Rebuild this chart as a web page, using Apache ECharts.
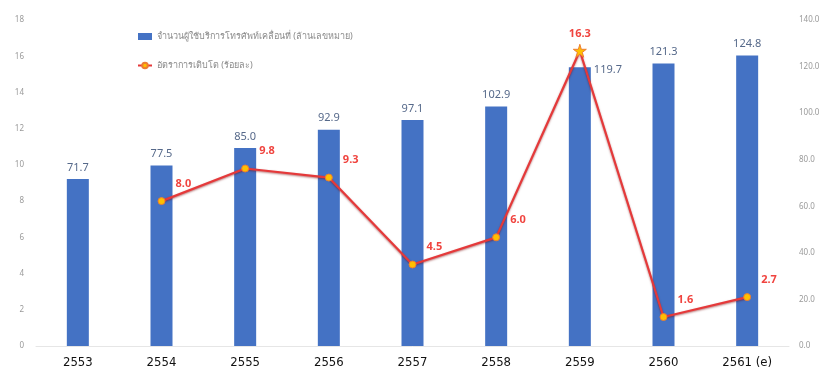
<!DOCTYPE html>
<html><head><meta charset="utf-8">
<script src="https://cdn.jsdelivr.net/npm/echarts@6/dist/echarts.min.js"></script>
<style>html,body{margin:0;padding:0;background:#fff}#c{width:836px;height:374px}</style>
</head><body><div id="c"></div>
<script>
var categories = ['2553','2554','2555','2556','2557','2558','2559','2560','2561 (e)'];
var subscribers = [71.7, 77.5, 85.0, 92.9, 97.1, 102.9, 119.7, 121.3, 124.8];
var growth = [null, 8.0, 9.8, 9.3, 4.5, 6.0, 16.3, 1.6, 2.7];
var leftTicks = [0, 18, 2];
var rightTicks = [0, 140, 20];
var barName = 'จำนวนผู้ใช้บริการโทรศัพท์เคลื่อนที่ (ล้านเลขหมาย)';
var lineName = 'อัตราการเติบโต (ร้อยละ)';

var lineData = growth.map(function(v, i){
  if (i === 6) return {value: v, symbol: 'path://M50,0 L61,35 L98,35 L68,57 L79,91 L50,70 L21,91 L32,57 L2,35 L39,35 Z', symbolSize: 13,
    label: {position: 'top', distance: 4}};
  return v;
});
var barData = subscribers.map(function(v, i){
  if (i === 6) return {value: v, label: {position: [25, -3]}};
  return v;
});

var chart = echarts.init(document.getElementById('c'));
chart.setOption({
  animation: false,
  textStyle: {fontFamily: 'Noto Sans, DejaVu Sans, sans-serif'},
  grid: {left: 36, right: 47, top: 20, bottom: 28},
  legend: {
    orient: 'vertical', left: 132, top: 27, itemGap: 20,
    itemWidth: 14, itemHeight: 7,
    textStyle: {color: '#8a8a8a', fontSize: 9},
    data: [
      {name: barName, icon: 'rect'},
      {name: lineName}
    ]
  },
  xAxis: {
    type: 'category', data: categories,
    axisLine: {show: true, lineStyle: {color: '#e6e6e6'}},
    axisTick: {show: false},
    axisLabel: {color: '#111', fontSize: 13, margin: 10, fontFamily: 'DejaVu Sans Condensed, sans-serif'}
  },
  yAxis: [
    {type: 'value', min: leftTicks[0], max: leftTicks[1], interval: leftTicks[2],
     axisLine: {show: false}, axisTick: {show: false}, splitLine: {show: false},
     axisLabel: {color: '#9a9a9a', fontSize: 8, margin: 12}},
    {type: 'value', min: rightTicks[0], max: rightTicks[1], interval: rightTicks[2],
     axisLine: {show: false}, axisTick: {show: false}, splitLine: {show: false},
     axisLabel: {color: '#9a9a9a', fontSize: 8, margin: 10, formatter: function(v){return v.toFixed(1);}}}
  ],
  series: [
    {name: barName, type: 'bar', yAxisIndex: 1, data: barData, barWidth: 22,
     itemStyle: {color: '#4472C4'},
     label: {show: true, position: 'top', distance: 6, color: '#56698a', fontSize: 11,
       formatter: function(p){return Number(p.value).toFixed(1);}}},
    {name: lineName, type: 'line', yAxisIndex: 0, data: lineData,
     symbol: 'circle', symbolSize: 7, showAllSymbol: true,
     lineStyle: {color: '#e5393a', width: 2.2, shadowColor: 'rgba(120,0,0,0.5)', shadowBlur: 2, shadowOffsetY: 1},
     itemStyle: {color: '#FFC000', borderColor: '#ED7D31', borderWidth: 1},
     label: {show: true, position: [18, -19], color: '#f0443f', fontSize: 11, fontWeight: 'bold',
       formatter: function(p){return p.value == null ? '' : Number(p.value).toFixed(1);}},
     z: 5}
  ]
});
</script></body></html>
